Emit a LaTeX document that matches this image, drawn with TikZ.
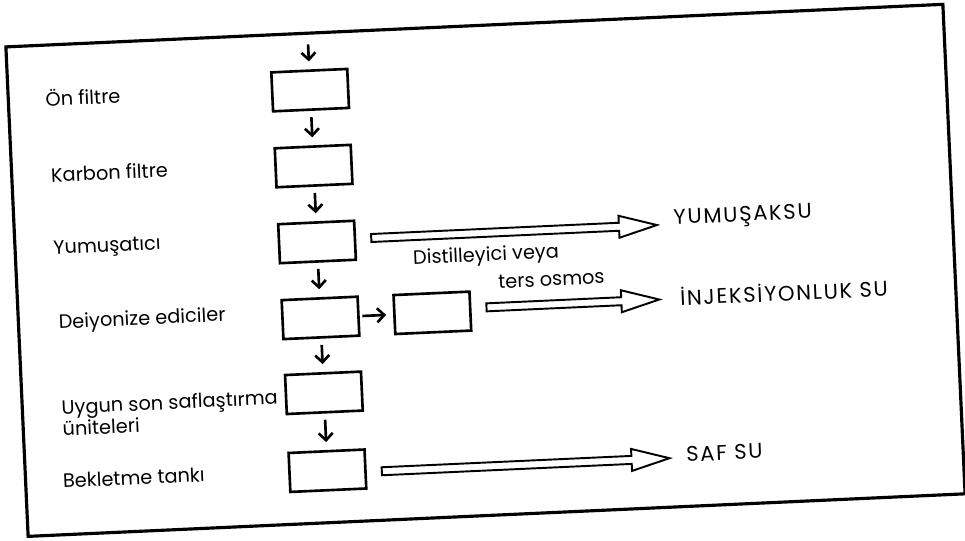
\documentclass[tikz,border=0pt]{standalone}
\usepackage{fontspec}
\setmainfont{Poppins}
\newfontfamily\capsfont[LetterSpace=8]{Poppins}
\usetikzlibrary{arrows.meta}

\tikzset{pics/outarrow/.style={code={
  \draw[line width=1.1pt,line join=miter]
    (0,4) -- (#1-38,4) -- (#1-38,11) -- (#1,0) -- (#1-38,-11) -- (#1-38,-4) -- (0,-4) -- cycle;
}}}

\begin{document}
\begin{tikzpicture}[x=.02cm,y=.02cm,line width=1.5pt,
  box/.style={draw,minimum width=1.52cm,minimum height=.78cm,inner sep=0pt},
  lbl/.style={anchor=west,inner sep=0pt,align=left,font=\fontsize{11}{11}\selectfont},
  product/.style={anchor=west,inner sep=0pt,font=\fontsize{12}{12}\capsfont},
  flow/.style={-{Straight Barb[length=4pt,width=8pt]},shorten <=3.5pt,shorten >=4.5pt}]
  \useasboundingbox (0,0) rectangle (965,-541);

  \begin{scope}[shift={(482.5,-270.5)},rotate=2.6,transform shape]
  \draw[line width=1.8pt] (-466,-245) rectangle (472,245);

  % treatment column
  \node[box] (b1) at (-164,188) {};
  \node[box] (b2) at (-164,112) {};
  \node[box] (b3) at (-164,36) {};
  \node[box] (b4) at (-164,-40) {};
  \node[box] (b5) at (-164,-115) {};
  \node[box] (b6) at (-164,-193) {};
  \node[box] (ro) at (-52,-40) {};

  \node[lbl] (s1) at (-430,192) {Ön filtre};
  \node[lbl] (s2) at (-428,115) {Karbon filtre};
  \node[lbl] (s3) at (-429,40) {Yumuşatıcı};
  \node[lbl] (s4) at (-427,-34) {Deiyonize ediciler};
  \node[lbl] (s5) at (-428,-128) {Uygun son saflaştırma\\üniteleri};
  \node[lbl] (s6) at (-430,-191) {Bekletme tankı};

  \coordinate (feed) at (-164,240);
  \draw[flow] (feed) -- (b1);
  \foreach \a/\b in {b1/b2,b2/b3,b3/b4,b4/b5,b5/b6}
    \draw[flow] (\a) -- (\b);
  \draw[flow,shorten <=1.5pt,shorten >=4pt] (b4) -- (ro);

  % outputs
  \node[lbl] (dist) at (-70,14) {Distilleyici veya};
  \node[lbl] (osmos) at (14,-12) {ters osmos};
  \path (b3.east) ++(15,1.5) pic {outarrow=286};
  \path (ro.east) ++(15,3) pic {outarrow=173};
  \path (b6.east) ++(15,-3) pic {outarrow=288};
  \node[product] (soft) at (192,42) {YUMUŞAKSU};
  \node[product] (inj) at (195,-35) {İNJEKSİYONLUK SU};
  \node[product] (pure) at (194,-193) {SAF SU};
  \end{scope}
\end{tikzpicture}
\end{document}
